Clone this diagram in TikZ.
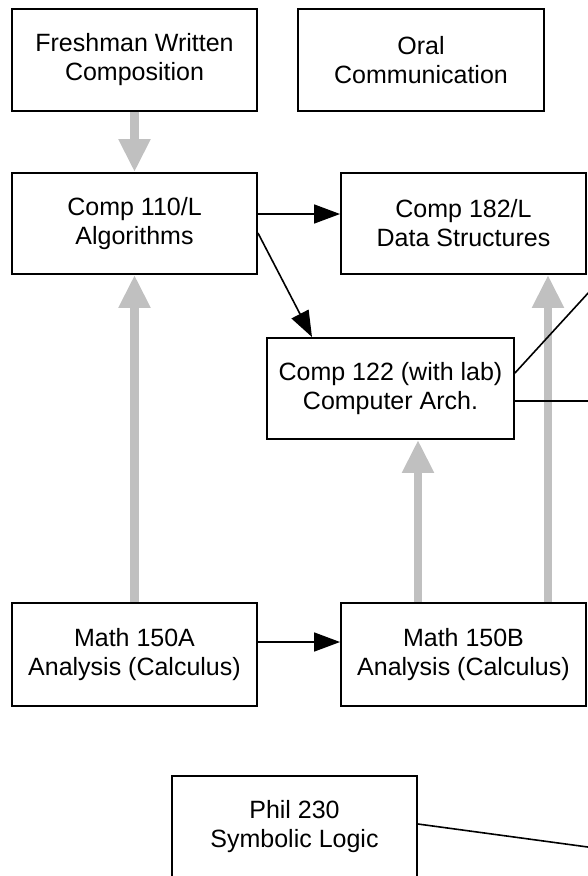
\documentclass[tikz,border=0pt]{standalone}
\usepackage{fontspec}
\setmainfont{Liberation Sans}
\usetikzlibrary{arrows.meta}
\definecolor{lightgray}{HTML}{C0C0C0}
\begin{document}
\begin{tikzpicture}[x=1pt,y=-1pt,
  course/.style={draw=black, line width=1.9pt, fill=white, minimum width=245pt, minimum height=102pt,
    inner sep=0pt, align=center, font=\fontsize{25}{29}\selectfont},
  prereq/.style={line width=1.6pt, -{Triangle[length=26pt,width=19pt]}},
  plain/.style={line width=1.6pt},
  grayarrow/.style={draw=lightgray, line width=8.4pt, -{Triangle[length=33pt,width=30pt,fill=lightgray]}}
]
\clip (0,0) rectangle (588,876);
\fill[white] (0,0) rectangle (588,876);
\node[course] (fresh) at (134.5,60) {Freshman Written\\Composition};
\node[course, minimum width=246pt] (oral) at (421,60) {Oral\\Communication};
\node[course, minimum height=101pt] (c110) at (134.5,223.5) {Comp 110/L\\Algorithms};
\node[course, minimum height=101pt] (c182) at (463.5,223.5) {Comp 182/L\\Data Structures};
\node[course, minimum width=247pt, minimum height=101pt] (c122) at (390.5,388.5) {Comp 122 (with lab)\\Computer Arch.};
\node[course, minimum height=103pt] (m150a) at (134.5,654.5) {Math 150A\\Analysis (Calculus)};
\node[course, minimum height=103pt] (m150b) at (463.5,654.5) {Math 150B\\Analysis (Calculus)};
\node[course] (phil) at (294.5,827) {Phil 230\\Symbolic Logic};

% gray prerequisite arrows
\draw[grayarrow] (fresh.south) -- (c110.north);
\draw[grayarrow] (m150a.north) -- (c110.south);
\coordinate (g1) at ([xshift=27.5pt]c122.south);
\draw[grayarrow] (g1 |- m150b.north) -- (g1);
\coordinate (g2) at ([xshift=84.5pt]c182.south);
\draw[grayarrow] (g2 |- m150b.north) -- (g2);

% black arrows
\coordinate (a1) at ([yshift=9.5pt]c110.east);
\draw[prereq] (a1) -- (a1 -| c182.west);
\draw[prereq] ([yshift=-9.5pt]c110.east) -- ([xshift=-78.5pt]c122.north);
\coordinate (a2) at ([yshift=12.5pt]m150a.east);
\draw[prereq] (a2) -- (a2 -| m150b.west);

% lines leaving the picture
\coordinate (e1) at (590,291);
\draw[plain] ([yshift=15.5pt]c122.east) -- (e1);
\coordinate (b2) at ([yshift=-12.5pt]c122.east);
\coordinate (e2) at (590,0);
\draw[plain] (b2) -- (b2 -| e2);
\coordinate (e3) at (590,847.3);
\draw[plain] ([yshift=3pt]phil.east) -- (e3);
\end{tikzpicture}
\end{document}
